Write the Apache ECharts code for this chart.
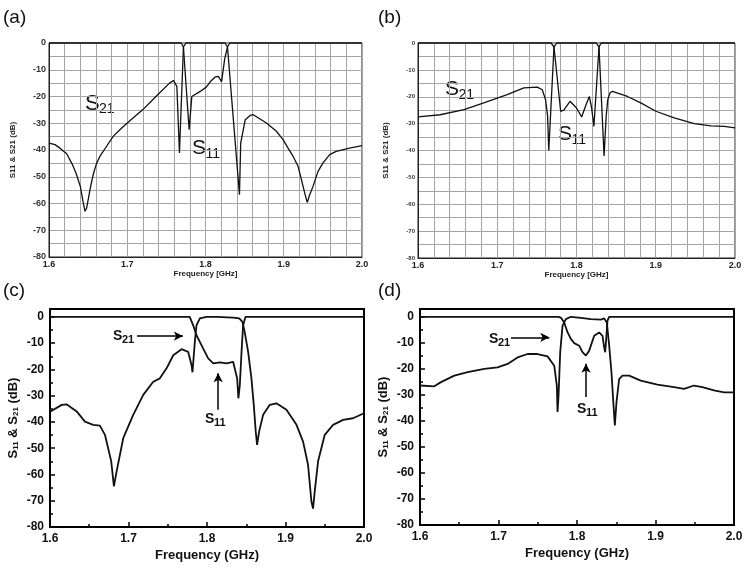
<!DOCTYPE html>
<html>
<head>
<meta charset="utf-8">
<script src="https://cdn.jsdelivr.net/npm/echarts@6.0.0/dist/echarts.min.js"></script>
<style>
html, body { margin: 0; padding: 0; background: #fff; }
#main { width: 748px; height: 570px; }
</style>
</head>
<body>
<div id="main"></div>
<script>
// (a) simulated response, [GHz, dB]
var aS21 = [[1.600,-37.4],[1.6077,-38.0],[1.614,-39.3],[1.6226,-41.4],[1.629,-44.9],[1.6345,-48.6],[1.640,-53.6],[1.6438,-59.8],[1.646,-62.9],[1.6481,-61.7],[1.6532,-53.6],[1.657,-48.6],[1.6609,-44.9],[1.665,-42.4],[1.6736,-38.6],[1.682,-34.9],[1.6906,-32.4],[1.700,-29.9],[1.720,-24.9],[1.737,-19.9],[1.754,-15.0],[1.759,-14.0],[1.7634,-16.2],[1.7667,-41.1],[1.7718,-1.5],[1.775,0],[1.825,0],[1.8281,-1.5],[1.8434,-56.7],[1.845,-37.4],[1.8507,-28.7],[1.857,-27.1],[1.861,-26.8],[1.8779,-29.9],[1.8906,-33],[1.8991,-36.1],[1.9055,-39.3],[1.912,-42.4],[1.9183,-46.1],[1.9226,-51.1],[1.9268,-56.1],[1.930,-59.6],[1.9332,-56.7],[1.9374,-53.6],[1.9438,-48],[1.950,-44.9],[1.9587,-41.7],[1.967,-40.5],[1.984,-39.3],[2.000,-38.4]];
var aS11 = [[1.600,0],[1.769,0],[1.7718,-1.5],[1.7791,-32.4],[1.7825,-20],[1.7932,-18.1],[1.801,-16.5],[1.806,-14.5],[1.812,-12.8],[1.8165,-12.5],[1.8205,-14.5],[1.8245,-6],[1.8281,-1.5],[1.831,0],[2.000,0]];

// (b)
var bS21 = [[1.600,-27.5],[1.628,-26.7],[1.658,-24.8],[1.683,-22.3],[1.7125,-19.2],[1.7336,-16.7],[1.7505,-16.4],[1.7568,-17.4],[1.761,-21.1],[1.7635,-27],[1.765,-40],[1.7716,-1.5],[1.775,0],[1.825,0],[1.8284,-1.5],[1.8348,-42],[1.8375,-27],[1.8395,-21],[1.8424,-18.5],[1.8453,-18],[1.8643,-19.9],[1.8811,-22.3],[1.9001,-25.4],[1.9233,-27.9],[1.9486,-30],[1.9697,-30.8],[1.9865,-31],[2.000,-31.6]];
var bS11 = [[1.600,0],[1.768,0],[1.7716,-1.5],[1.780,-25.4],[1.784,-25],[1.7918,-21.7],[1.7995,-24],[1.8065,-27.5],[1.812,-23],[1.8162,-19.9],[1.819,-24],[1.822,-31],[1.8284,-1.5],[1.831,0],[2.000,0]];

// (c) measured
var cS21 = [[1.600,-36.1],[1.615,-33.5],[1.621,-33.3],[1.634,-36],[1.6445,-39.9],[1.655,-41.1],[1.6636,-41.4],[1.670,-44.9],[1.678,-55],[1.6814,-64.5],[1.6848,-58.9],[1.6933,-46.2],[1.706,-37.3],[1.7188,-29.7],[1.7315,-24.7],[1.740,-23.4],[1.7485,-19.6],[1.757,-14.6],[1.7676,-12.3],[1.776,-13.3],[1.7803,-18.4],[1.7815,-21.1],[1.7845,-9.5],[1.7866,-3.2],[1.7909,-0.6],[1.7994,0],[1.812,0],[1.8333,-0.25],[1.841,-0.6],[1.8452,-1.9],[1.848,-5.7],[1.8524,-13.3],[1.8566,-23.4],[1.8596,-33.5],[1.8621,-43.7],[1.8638,-48.7],[1.8664,-43.7],[1.8715,-37.3],[1.880,-33.5],[1.8884,-32.9],[1.9012,-35.4],[1.914,-41.1],[1.9224,-47.5],[1.9287,-56.3],[1.933,-70.3],[1.9351,-73],[1.9372,-66.5],[1.9415,-55],[1.950,-44.9],[1.9606,-41.1],[1.9733,-39.2],[1.986,-38.6],[2.000,-36.7]];
var cS11 = [[1.600,0],[1.778,0],[1.7824,-3.2],[1.7866,-7],[1.7909,-9.5],[1.795,-12],[1.8015,-15.8],[1.808,-17.7],[1.8163,-17.3],[1.8248,-17.7],[1.8333,-17.1],[1.8354,-17.7],[1.8384,-23.4],[1.840,-31],[1.8418,-26],[1.844,-13.3],[1.846,-3.2],[1.849,0],[2.000,0]];

// (d) measured
var dS21 = [[1.600,-26.4],[1.6182,-26.7],[1.6267,-25.1],[1.6437,-22.6],[1.6607,-21.3],[1.6819,-20],[1.6988,-19.4],[1.7116,-18.1],[1.7243,-15.6],[1.737,-14.3],[1.7497,-14.3],[1.7625,-15.2],[1.771,-18.8],[1.7743,-26.4],[1.7752,-36.6],[1.7765,-30.2],[1.7786,-13.6],[1.7816,-3.4],[1.7858,-0.9],[1.7922,0],[1.805,-0.4],[1.8177,-0.9],[1.8304,-1.1],[1.8346,-0.6],[1.838,-2.2],[1.841,-11.1],[1.8439,-21.3],[1.8465,-34],[1.8482,-41.7],[1.8503,-32.8],[1.8537,-23.9],[1.8579,-22.6],[1.8664,-22.6],[1.8812,-24.5],[1.9024,-26.1],[1.9237,-27],[1.9364,-27.7],[1.949,-26.4],[1.9597,-27],[1.9745,-28.3],[1.9873,-29],[2.000,-29]];
var dS11 = [[1.600,0],[1.776,0],[1.7794,-0.3],[1.7837,-2.2],[1.788,-6],[1.7922,-8.5],[1.7964,-10.1],[1.8028,-11.1],[1.807,-13.6],[1.8113,-14.9],[1.8155,-13],[1.8219,-7.3],[1.8282,-6],[1.8325,-7.3],[1.8346,-11.7],[1.8359,-13.6],[1.8375,-7.3],[1.8388,-1.5],[1.841,0],[2.000,0]];

// arrows in (c) and (d), [from, to]
var cArrowS21 = [[1.7107,-7.3],[1.7693,-7.3]];
var cArrowS11 = [[1.8142,-35.4],[1.8142,-21.5]];
var dArrowS21 = [[1.7159,-7.9],[1.7647,-7.9]];
var dArrowS11 = [[1.8115,-30.8],[1.8115,-18]];

var FONT = 'Liberation Sans';

var chart = echarts.init(document.getElementById('main'));

// labels only on the 0.1 GHz / 10 dB lines of the fine grid
function tenth(v) {
    var t = Math.round(v * 100);
    return t % 10 === 0 ? (t / 100).toFixed(1) : '';
}
function tens(v) {
    return Math.round(v) % 10 === 0 ? String(Math.round(v)) : '';
}

function gridX(gi) {
    return {
        type: 'value', gridIndex: gi, min: 1.6, max: 2.0, interval: 0.02,
        axisLine: { onZero: false, lineStyle: { color: '#222', width: 1 } },
        axisTick: { show: false },
        splitLine: { show: true, lineStyle: { color: '#a5a5a5', width: 1 } },
        axisLabel: { fontSize: 9, fontWeight: 'bold', fontFamily: FONT, color: '#222', margin: 3, formatter: tenth },
        name: 'Frequency [GHz]', nameLocation: 'middle', nameGap: 10,
        nameTextStyle: { fontSize: 8, fontWeight: 'bold', fontFamily: FONT, color: '#222' }
    };
}
function gridY(gi, labelSize, gap) {
    return {
        type: 'value', gridIndex: gi, min: -80, max: 0, interval: 5,
        axisLine: { onZero: false, lineStyle: { color: '#222', width: 1 } },
        axisTick: { show: false },
        splitLine: { show: true, lineStyle: { color: '#a5a5a5', width: 1 } },
        axisLabel: { fontSize: labelSize, fontWeight: 'bold', fontFamily: FONT, color: '#333', margin: 3, formatter: tens },
        name: 'S11 & S21 (dB)', nameLocation: 'middle', nameGap: gap,
        nameTextStyle: { fontSize: 8, fontWeight: 'bold', fontFamily: FONT, color: '#222' }
    };
}
function boxX(gi) {
    return {
        type: 'value', gridIndex: gi, min: 1.6, max: 2.0, interval: 0.1,
        axisLine: { onZero: false, lineStyle: { color: '#000', width: 2 } },
        axisTick: { inside: true, length: 5, lineStyle: { color: '#000', width: 1.5 } },
        minorTick: { show: true, splitNumber: 2, length: 3, lineStyle: { color: '#000', width: 1.5 } },
        splitLine: { show: false },
        axisLabel: { fontSize: 12, fontWeight: 'bold', fontFamily: FONT, color: '#111', margin: 6,
            formatter: function (v) { return v.toFixed(1); } },
        name: 'Frequency (GHz)', nameLocation: 'middle', nameGap: 22,
        nameTextStyle: { fontSize: 13, fontWeight: 'bold', fontFamily: FONT, color: '#111' }
    };
}
function boxY(gi) {
    return {
        type: 'value', gridIndex: gi, min: -80, max: 3, interval: 10,
        axisLine: { onZero: false, lineStyle: { color: '#000', width: 2 } },
        axisTick: { inside: true, length: 5, lineStyle: { color: '#000', width: 1.5 } },
        minorTick: { show: true, splitNumber: 2, length: 3, lineStyle: { color: '#000', width: 1.5 } },
        splitLine: { show: false },
        axisLabel: { fontSize: 12, fontWeight: 'bold', fontFamily: FONT, color: '#111', margin: 6, showMaxLabel: false, formatter: tens },
        name: 'S{sub|11} & S{sub|21} (dB)', nameLocation: 'middle', nameGap: 30,
        nameTextStyle: { fontSize: 13, fontWeight: 'bold', fontFamily: FONT, color: '#111',
            rich: { sub: { fontSize: 8, fontWeight: 'bold', fontFamily: FONT, color: '#111', verticalAlign: 'bottom' } } }
    };
}

function curve(data, gi, width) {
    return {
        type: 'line', data: data, xAxisIndex: gi, yAxisIndex: gi,
        showSymbol: false, symbol: 'none', clip: false,
        lineStyle: { color: '#111', width: width }, animation: false
    };
}
function arrows(list) {
    return {
        silent: true, symbol: ['none', 'arrow'], symbolSize: [7, 9],
        lineStyle: { color: '#000', width: 1.5, type: 'solid' },
        label: { show: false }, animation: false,
        data: list.map(function (a) { return [{ coord: a[0] }, { coord: a[1] }]; })
    };
}

function sLabel(x, y, sub, size, subSize, weight) {
    return [
        { type: 'text', left: x, top: y,
          style: { text: 'S', fontSize: size, fontFamily: FONT, fontWeight: weight, fill: '#111' } },
        { type: 'text', left: x + size * 0.64, top: y + size * 0.42,
          style: { text: sub, fontSize: subSize, fontFamily: FONT, fontWeight: weight, fill: '#111' } }
    ];
}
function panel(x, y, t) {
    return { type: 'text', left: x, top: y, style: { text: t, fontSize: 19, fontFamily: FONT, fill: '#111' } };
}

var sc = curve(cS11, 2, 1.8);
sc.markLine = arrows([cArrowS21, cArrowS11]);
var sd = curve(dS11, 3, 1.8);
sd.markLine = arrows([dArrowS21, dArrowS11]);

var option = {
    backgroundColor: '#fff',
    animation: false,
    grid: [
        { left: 49, top: 43, width: 313, height: 214, show: true, borderColor: '#222', borderWidth: 1 },
        { left: 418, top: 43, width: 317, height: 215, show: true, borderColor: '#222', borderWidth: 1 },
        { left: 50, top: 309, width: 314, height: 218, show: true, borderColor: '#000', borderWidth: 2 },
        { left: 420, top: 309, width: 314, height: 216, show: true, borderColor: '#000', borderWidth: 2 }
    ],
    xAxis: [gridX(0), gridX(1), boxX(2), boxX(3)],
    yAxis: [gridY(0, 9, 32), gridY(1, 6, 28), boxY(2), boxY(3)],
    series: [
        curve(aS21, 0, 1.3), curve(aS11, 0, 1.3),
        curve(bS21, 1, 1.3), curve(bS11, 1, 1.3),
        curve(cS21, 2, 1.8), sc,
        curve(dS21, 3, 1.8), sd
    ],
    graphic: [
        panel(3, 8, '(a)'), panel(378, 8, '(b)'), panel(3, 281, '(c)'), panel(378, 281, '(d)')
    ].concat(
        sLabel(85, 93, '21', 22, 14, 'normal'),
        sLabel(192, 138, '11', 21, 14, 'normal'),
        sLabel(445, 79, '21', 21, 14, 'normal'),
        sLabel(558, 124, '11', 21, 14, 'normal'),
        sLabel(113, 329, '21', 14, 11, 'bold'),
        sLabel(205, 412, '11', 14, 11, 'bold'),
        sLabel(489, 332, '21', 14, 11, 'bold'),
        sLabel(577, 402, '11', 14, 11, 'bold')
    )
};

chart.setOption(option);
</script>
</body>
</html>
